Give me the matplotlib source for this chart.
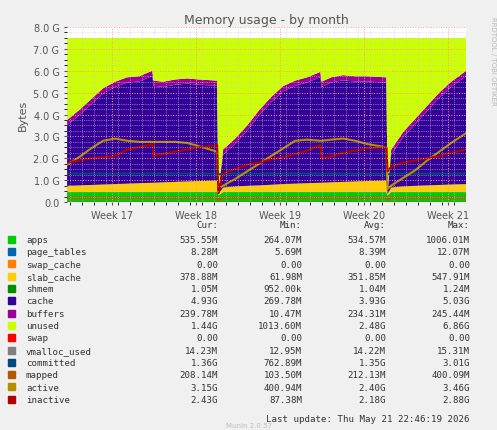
import numpy as np
import matplotlib
matplotlib.use('Agg')
import matplotlib.pyplot as plt

# days since start of window
days = [0, 1, 2, 3, 4, 5, 6, 7.1, 7.2, 8, 9, 10, 11, 12.5,
        12.6, 13, 14, 15, 16, 17, 18, 19, 20, 21.1, 21.2, 22, 23, 24, 25, 26.6,
        26.7, 27, 28, 29, 30, 31, 32, 33.25]

# values in GB
used_top = [3.75, 4.2, 4.7, 5.2, 5.5, 5.7, 5.75, 6.0, 5.55, 5.5, 5.6, 5.65, 5.6, 5.55,
            0.5, 2.4, 2.9, 3.5, 4.2, 4.8, 5.3, 5.55, 5.7, 5.95, 5.5, 5.7, 5.8, 5.75, 5.75, 5.7,
            0.5, 2.4, 3.2, 3.8, 4.4, 5.0, 5.5, 6.0]
apps = [0.45] * 14 + [0.3] + [0.45] * 15 + [0.3] + [0.45] * 7
page_tables = [0.008] * 38
swap_cache = [0.0] * 38
slab_cache = [0.28, 0.3, 0.32, 0.34, 0.36, 0.38, 0.4, 0.42, 0.42, 0.44, 0.46, 0.48, 0.5, 0.52,
              0.05, 0.2, 0.25, 0.28, 0.3, 0.33, 0.36, 0.38, 0.4, 0.42, 0.42, 0.44, 0.46, 0.48, 0.5, 0.52,
              0.05, 0.2, 0.25, 0.28, 0.3, 0.32, 0.34, 0.36]
shmem = [0.001] * 38
buffers = [0.24] * 14 + [0.02] + [0.24] * 15 + [0.02] + [0.24] * 7
total_mem = 7.5
swap = [0.0] * 38
vmalloc_used = [0.014] * 38
committed = [1.3] * 14 + [1.25] + [1.3] * 15 + [1.25] + [1.3] * 7
mapped = [0.2] * 14 + [0.1] + [0.2] * 15 + [0.1] + [0.2] * 7
active = [1.7, 2.05, 2.45, 2.8, 2.9, 2.8, 2.75, 2.75, 2.75, 2.75, 2.75, 2.7, 2.55, 2.3,
          0.6, 0.75, 1.05, 1.4, 1.75, 2.1, 2.45, 2.8, 2.85, 2.8, 2.8, 2.85, 2.9, 2.8, 2.65, 2.5,
          0.6, 0.75, 1.1, 1.45, 1.9, 2.3, 2.7, 3.15]
inactive = [1.8, 1.9, 2.0, 2.05, 2.1, 2.4, 2.5, 2.65, 2.1, 2.2, 2.3, 2.4, 2.5, 2.6,
            0.4, 1.3, 1.5, 1.7, 1.8, 1.95, 2.05, 2.2, 2.35, 2.6, 2.0, 2.1, 2.25, 2.35, 2.45, 2.5,
            1.4, 1.6, 1.8, 1.9, 2.0, 2.1, 2.25, 2.4]

week_labels = ['Week 17', 'Week 18', 'Week 19', 'Week 20', 'Week 21']
week_pos = [3.75, 10.75, 17.75, 24.75, 31.75]

legend_rows = [
    ('apps', '#00CC00', '535.55M', '264.07M', '534.57M', '1006.01M'),
    ('page_tables', '#0066B3', '8.28M', '5.69M', '8.39M', '12.07M'),
    ('swap_cache', '#FF8000', '0.00', '0.00', '0.00', '0.00'),
    ('slab_cache', '#FFCC00', '378.88M', '61.98M', '351.85M', '547.91M'),
    ('shmem', '#008F00', '1.05M', '952.00k', '1.04M', '1.24M'),
    ('cache', '#330099', '4.93G', '269.78M', '3.93G', '5.03G'),
    ('buffers', '#990099', '239.78M', '10.47M', '234.31M', '245.44M'),
    ('unused', '#CCFF00', '1.44G', '1013.60M', '2.48G', '6.86G'),
    ('swap', '#FF0000', '0.00', '0.00', '0.00', '0.00'),
    ('vmalloc_used', '#808080', '14.23M', '12.95M', '14.22M', '15.31M'),
    ('committed', '#00487D', '1.36G', '762.89M', '1.35G', '3.01G'),
    ('mapped', '#B35A00', '208.14M', '103.50M', '212.13M', '400.09M'),
    ('active', '#B38F00', '3.15G', '400.94M', '2.40G', '3.46G'),
    ('inactive', '#B30000', '2.43G', '87.38M', '2.18G', '2.88G'),
]

d = np.array(days)
a = np.array(apps); pt = np.array(page_tables); sc = np.array(swap_cache)
sl = np.array(slab_cache); sh = np.array(shmem); bu = np.array(buffers)
top = np.array(used_top)
cache = top - bu - a - pt - sc - sl - sh
unused = total_mem - top

fig = plt.figure(figsize=(4.97, 4.31), dpi=100, facecolor='#F0F0F0')
ax = fig.add_axes([0.135, 0.529, 0.803, 0.406], facecolor='white')

ax.stackplot(d, a, pt, sc, sl, sh, cache, bu, unused,
             colors=['#00CC00', '#0066B3', '#FF8000', '#FFCC00', '#008F00', '#330099', '#990099', '#CCFF00'],
             linewidth=0)
ax.plot(d, swap, color='#FF0000', lw=1)
ax.plot(d, vmalloc_used, color='#808080', lw=1)
ax.plot(d, committed, color='#00487D', lw=1.5)
ax.plot(d, mapped, color='#B35A00', lw=1.5)
ax.plot(d, active, color='#B38F00', lw=1.5)
ax.plot(d, inactive, color='#B30000', lw=1.5)

ax.set_xlim(0, 33.25)
ax.set_ylim(0, 8)
ax.set_yticks(np.arange(0, 9))
ax.set_yticklabels(['0.0'] + ['%.1f G' % v for v in range(1, 9)])
ax.set_yticks(np.arange(0, 8, 0.25), minor=True)
ax.set_xticks(week_pos)
ax.set_xticklabels(week_labels)
ax.set_xticks(np.arange(0.25, 33.25, 1), minor=True)
ax.grid(which='major', color='#FF9999', linestyle=':', lw=0.7)
ax.grid(which='minor', color='#CCCCCC', linestyle=':', lw=0.5)
ax.set_axisbelow(False)
ax.tick_params(labelsize=7, colors='#555555', length=2)
for s in ax.spines.values():
    s.set_visible(False)
ax.set_ylabel('Bytes', fontsize=8, color='#555555')
ax.set_title('Memory usage - by month', fontsize=9, color='#555555', pad=3)
fig.text(0.985, 0.96, 'RRDTOOL / TOBI OETIKER', rotation=270, fontsize=5, color='#BBBBBB', va='top')

mono = 'DejaVu Sans Mono'
fs = 6.6
y0 = 1 - 228 / 431
fig.text(218 / 497, y0, 'Cur:', ha='right', fontsize=fs, family=mono, color='#333333')
fig.text(302 / 497, y0, 'Min:', ha='right', fontsize=fs, family=mono, color='#333333')
fig.text(386 / 497, y0, 'Avg:', ha='right', fontsize=fs, family=mono, color='#333333')
fig.text(470 / 497, y0, 'Max:', ha='right', fontsize=fs, family=mono, color='#333333')
for i, (name, col, cur, mn, avg, mx) in enumerate(legend_rows):
    y = 1 - (243 + i * 12.3) / 431
    fig.patches.append(plt.Rectangle((8 / 497, y - 0.002), 7 / 497, 7 / 431, color=col,
                                     transform=fig.transFigure, figure=fig))
    fig.text(26 / 497, y, name, fontsize=fs, family=mono, color='#333333')
    fig.text(218 / 497, y, cur, ha='right', fontsize=fs, family=mono, color='#333333')
    fig.text(302 / 497, y, mn, ha='right', fontsize=fs, family=mono, color='#333333')
    fig.text(386 / 497, y, avg, ha='right', fontsize=fs, family=mono, color='#333333')
    fig.text(470 / 497, y, mx, ha='right', fontsize=fs, family=mono, color='#333333')
fig.text(470 / 497, 1 - 422 / 431, 'Last update: Thu May 21 22:46:19 2026', ha='right',
         fontsize=fs, family=mono, color='#333333')
fig.text(0.5, 1 - 428 / 431, 'Munin 2.0.57', ha='center', fontsize=5, color='#BBBBBB')

fig.savefig('out.png', dpi=100, facecolor=fig.get_facecolor())
